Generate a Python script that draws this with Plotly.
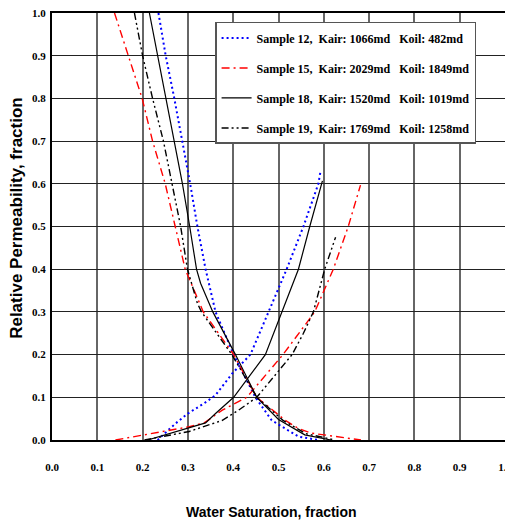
import plotly.graph_objects as go

# ---- data ----
s12_kro_sw = [0.235, 0.251, 0.270, 0.288, 0.305, 0.321, 0.339, 0.361, 0.401, 0.449, 0.485, 0.544, 0.588]
s12_kro = [1.0, 0.9, 0.8, 0.7, 0.6, 0.5, 0.4, 0.3, 0.2, 0.1, 0.046, 0.008, 0.0]
s12_krw_sw = [0.233, 0.273, 0.300, 0.336, 0.361, 0.398, 0.438, 0.478, 0.518, 0.555, 0.588, 0.593]
s12_krw = [0.0, 0.039, 0.062, 0.086, 0.105, 0.156, 0.2, 0.3, 0.4, 0.5, 0.6, 0.631]

s15_kro_sw = [0.138, 0.171, 0.199, 0.222, 0.250, 0.272, 0.294, 0.334, 0.401, 0.452, 0.515, 0.544, 0.573, 0.682]
s15_kro = [1.0, 0.894, 0.8, 0.7, 0.6, 0.5, 0.4, 0.3, 0.2, 0.1, 0.046, 0.027, 0.016, 0.0]
s15_krw_sw = [0.140, 0.230, 0.303, 0.336, 0.376, 0.430, 0.510, 0.580, 0.621, 0.654, 0.681]
s15_krw = [0.0, 0.017, 0.031, 0.040, 0.070, 0.100, 0.200, 0.300, 0.400, 0.500, 0.597]

s18_kro_sw = [0.215, 0.233, 0.251, 0.270, 0.288, 0.304, 0.319, 0.328, 0.355, 0.405, 0.452, 0.500, 0.558, 0.616]
s18_kro = [1.0, 0.9, 0.8, 0.7, 0.6, 0.5, 0.4, 0.367, 0.3, 0.2, 0.1, 0.048, 0.012, 0.0]
s18_krw_sw = [0.211, 0.303, 0.339, 0.361, 0.401, 0.471, 0.507, 0.544, 0.569, 0.597]
s18_krw = [0.0, 0.030, 0.040, 0.062, 0.100, 0.200, 0.300, 0.400, 0.500, 0.607]

s19_kro_sw = [0.182, 0.200, 0.222, 0.246, 0.265, 0.284, 0.299, 0.321, 0.330, 0.397, 0.452, 0.510, 0.560, 0.625]
s19_kro = [1.0, 0.9, 0.8, 0.7, 0.6, 0.5, 0.4, 0.32, 0.3, 0.2, 0.1, 0.046, 0.015, 0.0]
s19_krw_sw = [0.204, 0.303, 0.376, 0.412, 0.452, 0.530, 0.555, 0.577, 0.602, 0.626]
s19_krw = [0.0, 0.020, 0.046, 0.070, 0.100, 0.200, 0.250, 0.300, 0.400, 0.475]

legend_names = [
    "Sample 12,\u00a0 Kair: 1066md\u00a0\u00a0 Koil: 482md",
    "Sample 15,\u00a0 Kair: 2029md\u00a0\u00a0 Koil: 1849md",
    "Sample 18,\u00a0 Kair: 1520md\u00a0\u00a0 Koil: 1019md",
    "Sample 19,\u00a0 Kair: 1769md\u00a0\u00a0 Koil: 1258md",
]
tick_vals = [0.0, 0.1, 0.2, 0.3, 0.4, 0.5, 0.6, 0.7, 0.8, 0.9, 1.0]
tick_text = ["0.0", "0.1", "0.2", "0.3", "0.4", "0.5", "0.6", "0.7", "0.8", "0.9", "1.0"]

series = [
    (s12_kro_sw, s12_kro, s12_krw_sw, s12_krw, dict(color="#0000FF", width=2, dash="2px,3px")),
    (s15_kro_sw, s15_kro, s15_krw_sw, s15_krw, dict(color="#FF0000", width=1.4, dash="8px,4px,2px,4px")),
    (s18_kro_sw, s18_kro, s18_krw_sw, s18_krw, dict(color="#000000", width=1.2)),
    (s19_kro_sw, s19_kro, s19_krw_sw, s19_krw, dict(color="#000000", width=1.4, dash="7px,3px,2px,3px,2px,3px")),
]

fig = go.Figure()
for i, (x1, y1, x2, y2, line) in enumerate(series):
    fig.add_trace(go.Scatter(x=x1, y=y1, mode="lines", line=line, name=legend_names[i],
                             legendgroup=str(i), showlegend=True))
    fig.add_trace(go.Scatter(x=x2, y=y2, mode="lines", line=line, name=legend_names[i],
                             legendgroup=str(i), showlegend=False))

tickfont = dict(family="Liberation Serif", size=11, color="black", weight="bold")
fig.update_layout(
    width=505, height=517,
    margin=dict(l=44, r=8, t=5, b=85),
    paper_bgcolor="white", plot_bgcolor="white",
    showlegend=True,
    legend=dict(x=0.36, y=0.979, xanchor="left", yanchor="top",
                bgcolor="white", bordercolor="#555555", borderwidth=1.5,
                font=dict(family="Liberation Serif", size=12, color="black", weight="bold"),
                traceorder="grouped", tracegroupgap=11),
    xaxis=dict(range=[0, 1], tickvals=tick_vals, ticktext=tick_text, tickfont=tickfont,
               showgrid=True, gridcolor="#666666", gridwidth=1.5,
               showline=True, linecolor="black", linewidth=2, mirror=True,
               zeroline=False, ticks="", ticklabelstandoff=16, automargin=False,
               ticklabeloverflow="allow"),
    yaxis=dict(range=[0, 1], tickvals=tick_vals, ticktext=tick_text, tickfont=tickfont,
               showgrid=True, gridcolor="#222222", gridwidth=1.2,
               showline=True, linecolor="black", linewidth=2, mirror=True,
               zeroline=False, ticks="", ticklabelstandoff=2, automargin=False,
               ticklabeloverflow="allow"),
    annotations=[
        dict(text="<b>Water Saturation, fraction</b>", xref="paper", yref="paper",
             x=0.4836, y=-0.169, xanchor="center", yanchor="middle", showarrow=False,
             font=dict(family="Liberation Sans", size=14, color="black")),
        dict(text="<b>Relative Permeability, fraction</b>", xref="paper", yref="paper",
             x=-0.0775, y=0.52, xanchor="center", yanchor="middle", showarrow=False, textangle=-90,
             font=dict(family="Liberation Sans", size=17, color="black")),
    ],
)

fig.write_html("out.html")
